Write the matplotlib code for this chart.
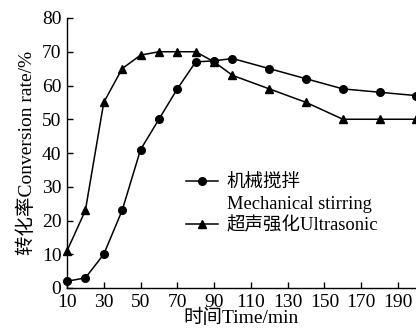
import matplotlib
matplotlib.use("Agg")
import matplotlib.pyplot as plt
from matplotlib.lines import Line2D

plt.rcParams['font.family'] = ['Liberation Serif', 'Noto Sans CJK SC']

time_mech = [10, 20, 30, 40, 50, 60, 70, 80, 90, 100, 120, 140, 160, 180, 200]
conv_mech = [2, 3, 10, 23, 41, 50, 59, 67, 67.3, 68, 65, 62, 59, 58, 57]
time_ultra = [10, 20, 30, 40, 50, 60, 70, 80, 90, 100, 120, 140, 160, 180, 200]
conv_ultra = [11, 23, 55, 65, 69, 70, 70, 70, 67, 63, 59, 55, 50, 50, 50]
xticks = [10, 30, 50, 70, 90, 110, 130, 150, 170, 190]
yticks = [0, 10, 20, 30, 40, 50, 60, 70, 80]
labels = ['机械搅拌', 'Mechanical stirring', '超声强化Ultrasonic']

fig = plt.figure(figsize=(4.16, 3.31), dpi=100)
ax = fig.add_axes([67/416, (331-288)/331, 1 - 67/416, (288-18)/331])

l1, = ax.plot(time_mech, conv_mech, color='black', lw=1.1, marker='o', ms=5.5,
              clip_on=False, zorder=3)
l2, = ax.plot(time_ultra, conv_ultra, color='black', lw=1.1, marker='^', ms=6,
              clip_on=False, zorder=3)

ax.set_xlim(10, 199.8)
ax.set_ylim(0, 80)
ax.set_xticks(xticks)
ax.set_yticks(yticks)
ax.tick_params(direction='in', length=4, width=1, labelsize=14)
ax.tick_params(axis='x', pad=4)
ax.tick_params(axis='y', pad=4)
for s in ['top', 'right']:
    ax.spines[s].set_visible(False)
for s in ['left', 'bottom']:
    ax.spines[s].set_linewidth(1)

ax.set_xlabel('时间Time/min', fontsize=14, labelpad=-1)
ax.set_ylabel('转化率Conversion rate/%', fontsize=14, labelpad=4)

blank = Line2D([], [], color='none', marker=None)
leg = ax.legend([l1, blank, l2], labels, loc='upper left',
                bbox_to_anchor=(0.32, 0.45), frameon=False,
                fontsize=13.3, handlelength=1.75, handletextpad=0.45,
                labelspacing=0.25, borderaxespad=0)

fig.savefig('out.png', dpi=100)
